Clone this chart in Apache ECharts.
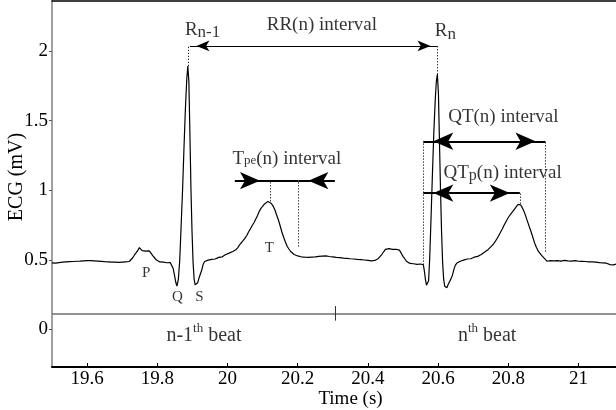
<!DOCTYPE html>
<html><head><meta charset="utf-8">
<script src="https://cdn.jsdelivr.net/npm/echarts@6/dist/echarts.min.js"></script>
<style>html,body{margin:0;padding:0;background:#fff}#c{width:616px;height:410px}</style>
</head><body><div id="c"></div>
<script>
// ECG trace: [time (s), ECG (mV)]
const ecgPoints = [
[19.500,0.478],[19.505,0.482],[19.510,0.476],[19.515,0.484],[19.520,0.480],[19.525,0.486],[19.530,0.483],[19.535,0.489],
[19.540,0.485],[19.545,0.490],[19.550,0.487],[19.555,0.492],[19.560,0.488],[19.565,0.494],[19.570,0.490],[19.575,0.496],
[19.580,0.491],[19.585,0.497],[19.590,0.493],[19.595,0.499],[19.600,0.494],[19.605,0.500],[19.610,0.495],[19.615,0.498],
[19.620,0.493],[19.625,0.497],[19.630,0.491],[19.635,0.495],[19.640,0.489],[19.645,0.493],[19.650,0.487],[19.655,0.491],
[19.660,0.486],[19.665,0.490],[19.670,0.484],[19.675,0.488],[19.680,0.483],[19.685,0.487],[19.690,0.482],[19.695,0.488],
[19.700,0.484],[19.705,0.490],[19.710,0.486],[19.715,0.492],[19.720,0.488],[19.725,0.495],
[19.730,0.515],[19.735,0.535],[19.740,0.552],[19.745,0.570],[19.749,0.588],[19.753,0.575],[19.757,0.566],[19.762,0.570],
[19.767,0.562],[19.772,0.572],[19.777,0.565],[19.782,0.548],[19.787,0.530],[19.792,0.515],[19.797,0.500],[19.802,0.492],
[19.807,0.485],[19.812,0.480],[19.817,0.483],[19.822,0.476],[19.827,0.479],[19.832,0.474],[19.837,0.480],[19.842,0.470],
[19.845,0.440],[19.849,0.390],[19.853,0.335],[19.856,0.312],[19.860,0.360],[19.864,0.500],[19.868,0.750],[19.872,1.000],
[19.876,1.300],[19.880,1.580],[19.884,1.800],[19.887,1.893],[19.890,1.780],[19.893,1.400],[19.896,1.000],[19.899,0.700],
[19.902,0.480],[19.905,0.360],[19.908,0.320],[19.911,0.312],[19.915,0.335],[19.919,0.370],[19.923,0.400],[19.927,0.430],
[19.931,0.470],[19.935,0.488],[19.940,0.492],[19.945,0.498],[19.950,0.496],[19.955,0.503],[19.960,0.508],[19.965,0.506],
[19.970,0.515],[19.975,0.518],[19.980,0.525],[19.985,0.522],[19.990,0.532],[19.995,0.538],[20.000,0.535],[20.005,0.548],
[20.010,0.552],[20.015,0.560],[20.020,0.568],[20.025,0.575],[20.030,0.590],[20.035,0.610],[20.040,0.622],[20.045,0.640],
[20.050,0.656],[20.055,0.675],[20.060,0.700],[20.065,0.722],[20.070,0.745],[20.075,0.765],[20.080,0.790],[20.085,0.815],
[20.090,0.845],[20.095,0.868],[20.100,0.885],[20.105,0.900],[20.110,0.912],[20.115,0.920],[20.120,0.918],[20.125,0.905],
[20.130,0.886],[20.135,0.860],[20.140,0.822],[20.145,0.788],[20.150,0.745],[20.155,0.700],[20.160,0.662],[20.165,0.628],
[20.170,0.598],[20.175,0.578],[20.180,0.560],[20.185,0.548],[20.190,0.538],[20.195,0.532],[20.200,0.528],
[20.205,0.526],[20.210,0.522],[20.215,0.525],[20.220,0.519],[20.225,0.523],[20.230,0.518],[20.235,0.524],[20.240,0.520],
[20.245,0.526],[20.250,0.522],[20.255,0.530],[20.260,0.525],[20.265,0.532],[20.270,0.527],[20.275,0.534],[20.280,0.528],
[20.285,0.531],[20.290,0.524],[20.295,0.528],[20.300,0.521],[20.305,0.525],[20.310,0.518],[20.315,0.522],[20.320,0.516],
[20.325,0.520],[20.330,0.513],[20.335,0.517],[20.340,0.511],[20.345,0.514],[20.350,0.508],[20.355,0.512],[20.360,0.506],
[20.365,0.510],[20.370,0.503],[20.375,0.507],[20.380,0.501],[20.385,0.505],[20.390,0.499],[20.395,0.502],[20.400,0.496],
[20.405,0.499],[20.410,0.493],[20.415,0.490],[20.420,0.496],[20.425,0.502],[20.430,0.510],[20.435,0.522],[20.440,0.540],
[20.445,0.558],[20.450,0.575],[20.455,0.588],[20.460,0.580],[20.465,0.572],[20.470,0.575],[20.475,0.568],[20.480,0.576],
[20.485,0.580],[20.490,0.570],[20.495,0.548],[20.500,0.525],[20.505,0.508],[20.510,0.490],[20.515,0.478],[20.520,0.474],
[20.525,0.470],[20.530,0.472],[20.535,0.466],[20.540,0.468],[20.545,0.464],[20.550,0.470],[20.555,0.478],[20.558,0.465],
[20.561,0.420],[20.564,0.360],[20.567,0.318],[20.570,0.305],[20.573,0.350],[20.576,0.500],[20.580,0.800],[20.584,1.120],
[20.588,1.420],[20.592,1.650],[20.595,1.780],[20.598,1.833],[20.601,1.700],[20.604,1.350],[20.607,1.000],[20.610,0.700],
[20.613,0.480],[20.616,0.360],[20.619,0.310],[20.622,0.298],[20.625,0.300],[20.629,0.325],[20.633,0.345],[20.637,0.365],
[20.641,0.390],[20.645,0.430],[20.649,0.460],[20.653,0.475],[20.658,0.484],[20.663,0.490],[20.668,0.494],[20.673,0.498],
[20.678,0.502],[20.683,0.506],[20.688,0.510],[20.693,0.508],[20.698,0.515],[20.703,0.519],[20.708,0.517],[20.713,0.525],
[20.718,0.532],[20.723,0.538],[20.728,0.546],[20.733,0.556],[20.738,0.562],[20.743,0.575],[20.748,0.588],[20.753,0.600],
[20.758,0.615],[20.763,0.632],[20.768,0.652],[20.773,0.675],[20.778,0.698],[20.783,0.722],[20.788,0.748],[20.793,0.772],
[20.798,0.795],[20.803,0.815],[20.808,0.832],[20.813,0.848],[20.818,0.865],[20.823,0.882],[20.828,0.898],[20.831,0.903],
[20.835,0.896],[20.840,0.875],[20.845,0.848],[20.850,0.812],[20.855,0.775],[20.860,0.738],[20.865,0.702],[20.870,0.662],
[20.875,0.622],[20.880,0.590],[20.885,0.565],[20.890,0.548],[20.895,0.532],[20.900,0.520],[20.905,0.505],[20.910,0.490],
[20.915,0.486],[20.920,0.494],[20.925,0.485],[20.930,0.492],[20.935,0.484],[20.940,0.495],[20.945,0.483],[20.950,0.491],
[20.955,0.485],[20.960,0.496],[20.965,0.486],[20.970,0.493],[20.975,0.484],[20.980,0.491],[20.985,0.483],[20.990,0.494],
[20.995,0.484],[21.000,0.490],[21.005,0.482],[21.010,0.489],[21.015,0.481],[21.020,0.488],[21.025,0.480],[21.030,0.486],
[21.035,0.479],[21.040,0.485],[21.045,0.478],[21.050,0.483],[21.055,0.476],[21.060,0.480],[21.065,0.474],[21.070,0.478],
[21.075,0.472],[21.080,0.476],[21.085,0.470],[21.090,0.466],[21.095,0.468],[21.100,0.464],[21.107,0.470]
];

const xTicks = [19.6, 19.8, 20, 20.2, 20.4, 20.6, 20.8, 21];
const yTicks = [0, 0.5, 1, 1.5, 2];

// annotation anchors (data coordinates)
const rrArrowX = [19.893, 20.597];
const rrArrowY = [2.037];
const rPeakX = [19.888, 20.598];
const rPeakY = [1.893, 1.833];
const tpeLineX = [20.021, 20.306];
const tpeTipX = [20.121, 20.202];
const tpeY = [1.069];
const tpeDropY = [0.92, 0.596];
const qtX = [20.558, 20.906];
const qtY = [1.352];
const qtDropY = [0.465, 0.56];
const qtpX = [20.558, 20.833];
const qtpY = [0.98];
const qtpDropY = [0.903];
const beatLineY = [0.116];
const beatTickX = [20.308];
const beatTickY = [0.063, 0.168];

const labelText = [
  '{m|RR(n) interval}',
  '{m|R}{sub|n-1}',
  '{m|R}{sub|n}',
  '{m|T}{pe|pe}{m|(n) interval}',
  '{m|QT(n) interval}',
  '{m|QT}{ps|p}{m|(n) interval}',
  '{s|P}', '{s|Q}', '{s|S}', '{s|T}',
  '{b|n-1}{sup|th}{b| beat}',
  '{b|n}{sup|th}{b| beat}'
];
const labelX = [20.269, 19.929, 20.621, 20.169, 20.786, 20.784, 19.768, 19.857, 19.920, 20.119, 19.933, 20.740];
const labelY = [2.190, 2.154, 2.143, 1.225, 1.525, 1.122, 0.404, 0.233, 0.233, 0.586, -0.042, -0.042];

const FONT = '"Liberation Serif","Times New Roman",serif';
const XMIN = 19.5, XMAX = 21.107;

const ARROW_S = [8, 13];
const ARROW_L = [13, 20];
const solid = (w) => ({ color: '#000', width: w, type: 'solid' });
const dotted = { color: '#111', width: 1, type: [1.2, 1.8] };
function seg(p0, p1, style, s0, s1) {
  const a = { coord: p0, symbol: 'none' };
  const b = { coord: p1, symbol: 'none' };
  if (s0) { a.symbol = 'arrow'; a.symbolSize = s0; a.symbolOffset = [0, '50%']; }
  if (s1) { b.symbol = 'arrow'; b.symbolSize = s1; b.symbolOffset = [0, '50%']; }
  a.lineStyle = style;
  return [a, b];
}

const markLines = [
  seg([rrArrowX[0], rrArrowY[0]], [rrArrowX[1], rrArrowY[0]], solid(1.2), ARROW_S, ARROW_S),
  seg([rPeakX[0], rPeakY[0]], [rPeakX[0], rrArrowY[0]], dotted),
  seg([rPeakX[1], rPeakY[1]], [rPeakX[1], rrArrowY[0]], dotted),
  seg([tpeLineX[0], tpeY[0]], [tpeTipX[0], tpeY[0]], solid(2), null, ARROW_L),
  seg([tpeLineX[1], tpeY[0]], [tpeTipX[1], tpeY[0]], solid(2), null, ARROW_L),
  seg([tpeTipX[0], tpeY[0]], [tpeTipX[1], tpeY[0]], solid(2)),
  seg([tpeTipX[0], tpeDropY[0]], [tpeTipX[0], tpeY[0]], dotted),
  seg([tpeTipX[1], tpeDropY[1]], [tpeTipX[1], tpeY[0]], dotted),
  seg([qtX[0], qtY[0]], [qtX[1], qtY[0]], solid(2), ARROW_L, ARROW_L),
  seg([qtX[0], qtDropY[0]], [qtX[0], qtY[0]], dotted),
  seg([qtX[1], qtDropY[1]], [qtX[1], qtY[0]], dotted),
  seg([qtpX[0], qtpY[0]], [qtpX[1], qtpY[0]], solid(2), ARROW_L, ARROW_L),
  seg([qtpX[1], qtpDropY[0]], [qtpX[1], qtpY[0]], dotted),
  seg([XMIN, beatLineY[0]], [XMAX, beatLineY[0]], { color: '#6e6e6e', width: 1.5, type: 'solid' }),
  seg([beatTickX[0], beatTickY[0]], [beatTickX[0], beatTickY[1]], { color: '#333', width: 1, type: 'solid' })
];

const RICH = {
  m: { fontSize: 19, fontFamily: FONT, color: '#000' },
  sub: { fontSize: 17, fontFamily: FONT, color: '#000', padding: [6, 0, 0, 0] },
  pe: { fontSize: 13, fontFamily: FONT, color: '#000', padding: [3, 0, 0, 0] },
  ps: { fontSize: 16, fontFamily: FONT, color: '#000', padding: [5, 0, 0, 0] },
  s: { fontSize: 15, fontFamily: FONT, color: '#000' },
  b: { fontSize: 20, fontFamily: FONT, color: '#000' },
  sup: { fontSize: 13, fontFamily: FONT, color: '#000', padding: [0, 0, 13, 0] }
};

const chart = echarts.init(document.getElementById('c'), null, { renderer: 'canvas' });
chart.setOption({
  animation: false,
  textStyle: { fontFamily: FONT },
  grid: { left: 52, right: 0, top: 1, bottom: 43, containLabel: false, outerBoundsMode: 'none' },
  xAxis: [{
    type: 'value', min: XMIN, max: XMAX, position: 'bottom',
    name: 'Time (s)', nameLocation: 'middle', nameGap: 23, nameMoveOverlap: false,
    nameTextStyle: { fontSize: 19, color: '#000', fontFamily: FONT, padding: [0, 0, 0, 33] },
    axisLine: { show: true, onZero: false, lineStyle: { color: '#000', width: 2 } },
    axisTick: { show: true, inside: true, length: 4, lineStyle: { color: '#000', width: 1 }, customValues: xTicks },
    axisLabel: { show: true, margin: 3, fontSize: 19, color: '#000', fontFamily: FONT, customValues: xTicks },
    splitLine: { show: false }
  }, {
    type: 'value', min: XMIN, max: XMAX, position: 'top',
    axisLine: { show: true, onZero: false, lineStyle: { color: '#000', width: 1.5 } },
    axisTick: { show: false }, axisLabel: { show: false }, splitLine: { show: false }
  }],
  yAxis: {
    type: 'value', min: -0.27, max: 2.36,
    name: 'ECG (mV)', nameLocation: 'middle', nameGap: 25, nameRotate: 90, nameMoveOverlap: false,
    nameTextStyle: { fontSize: 20, color: '#000', fontFamily: FONT, padding: [0, 0, 0, 14] },
    axisLine: { show: true, onZero: false, lineStyle: { color: '#808080', width: 1.5 } },
    axisTick: { show: true, inside: false, length: 3, lineStyle: { color: '#555', width: 1 }, customValues: yTicks },
    axisLabel: { margin: 4, fontSize: 19, color: '#000', fontFamily: FONT, customValues: yTicks },
    splitLine: { show: false }
  },
  series: [{
    type: 'line', name: 'ECG', data: ecgPoints, showSymbol: false, symbol: 'none',
    lineStyle: { color: '#000', width: 1.2 }, silent: true, z: 3,
    markLine: {
      silent: true, symbol: 'none', animation: false,
      label: { show: false }, emphasis: { disabled: true },
      itemStyle: { color: '#000' },
      data: markLines
    }
  }, {
    type: 'scatter', silent: true, symbolSize: 1, z: 5,
    itemStyle: { color: 'rgba(0,0,0,0)' },
    data: labelX.map((x, i) => ({ value: [x, labelY[i]], label: { formatter: labelText[i] } })),
    label: { show: true, position: 'inside', align: 'center', verticalAlign: 'middle', color: '#000', fontFamily: FONT, rich: RICH }
  }]
});
</script>
</body></html>
